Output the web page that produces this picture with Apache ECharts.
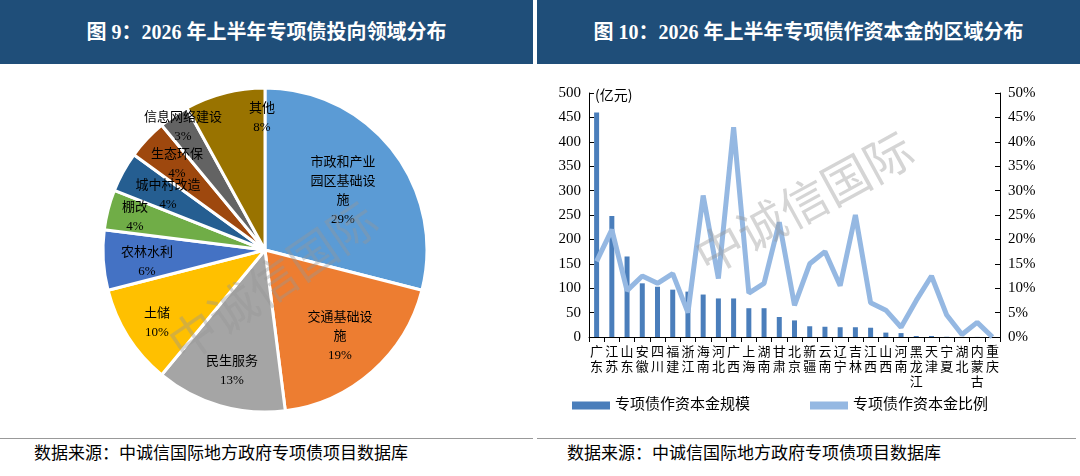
<!DOCTYPE html>
<html><head><meta charset="utf-8">
<script src="https://cdn.jsdelivr.net/npm/echarts@6/dist/echarts.min.js"></script>
<style>
body{margin:0;width:1080px;height:476px;background:#fff;position:relative;overflow:hidden;font-family:"Liberation Serif","Noto Sans CJK SC",serif}
.h{position:absolute;top:0;height:64px;background:#1f4e79;color:#fff;font-weight:bold;font-size:20px;line-height:64px;text-align:center}
.f{position:absolute;top:438px;height:38px;border-top:1px solid #999;font-size:17px;line-height:30px;padding-left:34px;color:#000}
.c{position:absolute;top:64px;height:374px}
</style></head><body>
<div class="h" style="left:0;width:533px">图 9：2026 年上半年专项债投向领域分布</div>
<div class="h" style="left:537px;width:543px">图 10：2026 年上半年专项债作资本金的区域分布</div>
<div class="c" id="c1" style="left:0;width:533px"></div>
<div class="c" id="c2" style="left:537px;width:543px"></div>
<div class="f" style="left:0;width:499px">数据来源：中诚信国际地方政府专项债项目数据库</div>
<div class="f" style="left:537px;width:509px;padding-left:30px">数据来源：中诚信国际地方政府专项债项目数据库</div>
<script>
const pieNames=['市政和产业\n园区基础设\n施','交通基础设\n施','民生服务','土储','农林水利','棚改','城中村改造','生态环保','信息网络建设','其他'];
const pieValues=[29,19,13,10,6,4,4,4,3,8];
const pieColors=['#5b9bd5','#ed7d31','#a5a5a5','#ffc000','#4472c4','#70ad47','#255e91','#9e480e','#636363','#997300'];
const regions=['广东','江苏','山东','安徽','四川','福建','浙江','海南','河北','广西','上海','湖南','甘肃','北京','新疆','云南','辽宁','吉林','江西','山西','河南','黑龙江','天津','宁夏','湖北','内蒙古','重庆'];
const capital=[460,248,165,110,103,97,93,87,79,79,59,59,41,34,22,21,20,20,19,9,8,2,2,0.5,0.3,0.2,0.1];
const ratio=[15.5,22,9.5,12.5,11,13,5,29,12,43,9,11,23.5,6.5,15,17.5,10.5,25,7,5.5,2,7.5,12.5,4.5,0.5,3,0];
const font='"Liberation Serif","Noto Sans CJK SC",serif';
const labelPos=[[343,127],[340,273],[232,307],[157,259],[147,198],[135,153],[168,131],[177,100],[183,63],[262,54]];
const wm=(x,y,r)=>({type:'text',x:x,y:y,rotation:r,z:10,style:{text:'中诚信国际',fill:'rgba(150,150,150,0.4)',font:'48px "Noto Sans CJK SC"'}});
const c1=echarts.init(document.getElementById('c1'));
c1.setOption({animation:false,
graphic:[wm(160,265,0.6)],
series:[{type:'pie',center:[265,186],radius:162,startAngle:90,clockwise:true,
itemStyle:{borderColor:'#fff',borderWidth:3},
label:{position:'inside',color:'#000',fontSize:13,fontFamily:font,lineHeight:19,align:'center',verticalAlign:'middle',overflow:'none',formatter:p=>p.name+'\n'+p.value+'%'},
labelLayout:p=>({x:labelPos[p.dataIndex][0],y:labelPos[p.dataIndex][1],align:'center',verticalAlign:'middle',hideOverlap:false}),
data:pieNames.map((n,i)=>({name:n,value:pieValues[i],itemStyle:{color:pieColors[i]}}))}]});
const c2=echarts.init(document.getElementById('c2'));
c2.setOption({animation:false,
graphic:[wm(150,175,0.5),{type:'text',x:58,y:24,style:{text:'(亿元)',font:'14px "Noto Sans CJK SC"',fill:'#000'}}],
grid:{left:52,right:80,top:29,bottom:101},
legend:{bottom:20,left:30,itemGap:60,textStyle:{fontSize:15,fontFamily:font,color:'#000'},data:[{name:'专项债作资本金规模',icon:'rect'},{name:'专项债作资本金比例',icon:'rect'}],itemWidth:38,itemHeight:8},
xAxis:{type:'category',data:regions,axisTick:{show:true,length:5,lineStyle:{color:'#000'}},axisLine:{lineStyle:{color:'#000'}},
axisLabel:{interval:0,fontSize:13,color:'#000',lineHeight:15,fontFamily:font,formatter:v=>v.split('').join('\n')}},
yAxis:[{type:'value',min:0,max:500,interval:50,splitLine:{show:false},axisLine:{show:true,lineStyle:{color:'#000'}},axisTick:{show:true,inside:true,lineStyle:{color:'#000'}},axisLabel:{fontSize:15,color:'#000',fontFamily:font}},
{type:'value',min:0,max:50,interval:5,splitLine:{show:false},axisLine:{show:true,lineStyle:{color:'#000'}},axisTick:{show:true,inside:true,lineStyle:{color:'#000'}},axisLabel:{fontSize:15,color:'#000',fontFamily:font,formatter:'{value}%'}}],
series:[{name:'专项债作资本金规模',type:'bar',data:capital,barWidth:5,itemStyle:{color:'#4a7ebb'}},
{name:'专项债作资本金比例',type:'line',yAxisIndex:1,data:ratio,symbol:'none',lineStyle:{width:5,color:'#95b8e2'},itemStyle:{color:'#95b8e2'}}]});
</script></body></html>
